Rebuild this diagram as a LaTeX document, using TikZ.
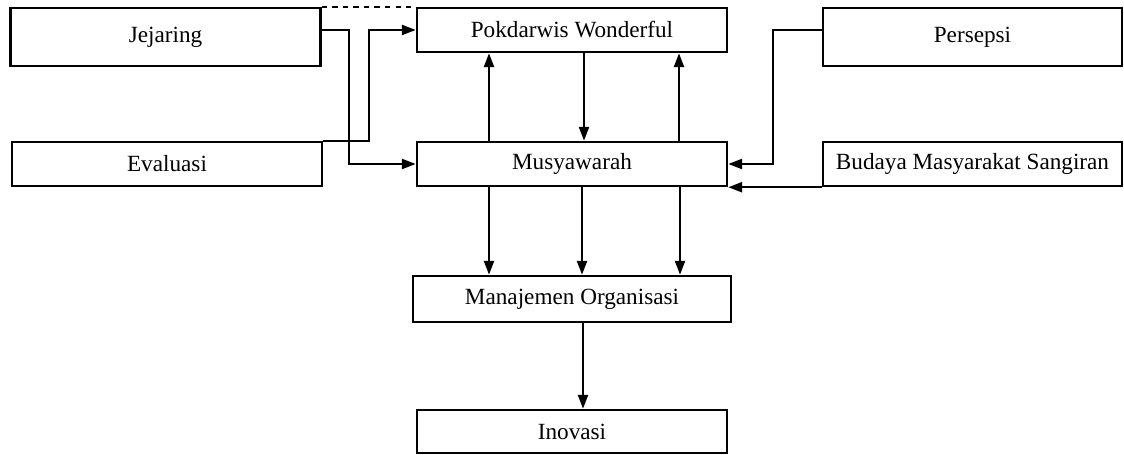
\documentclass[tikz,border=0pt]{standalone}
\usepackage{fontspec}
\setmainfont{Liberation Serif}
\usepackage{tikz}
\usetikzlibrary{arrows.meta,positioning}

\begin{document}
\begin{tikzpicture}[
  box/.style={draw, line width=1.4pt, minimum width=6.2cm, minimum height=0.88cm, align=center, inner sep=0pt, font=\fontsize{13.2}{15}\selectfont},
  tallbox/.style={box, minimum height=1.16cm},
  arr/.style={-{Triangle[length=2.8mm, width=2mm]}, line width=1.4pt},
  dashline/.style={dashed, line width=1.4pt}
]
  \useasboundingbox (0,0) rectangle (22.48,9.1);
  % left column
  \node[tallbox] (jejaring) at (3.31,8.36) {Jejaring};
  \node[box] (evaluasi) at (3.34,5.82) {Evaluasi};
  % middle column
  \node[box] (pokdarwis) at (11.44,8.5) {Pokdarwis Wonderful};
  \node[box] (musyawarah) at (11.44,5.82) {Musyawarah};
  \node[box, minimum width=6.36cm, minimum height=0.92cm] (manajemen) at (11.44,3.12) {Manajemen Organisasi};
  \node[box, minimum height=0.86cm] (inovasi) at (11.44,0.47) {Inovasi};
  % right column
  \node[tallbox, minimum width=5.98cm] (persepsi) at (19.45,8.36) {Persepsi};
  \node[box, minimum width=5.98cm] (budaya) at (19.45,5.82) {Budaya Masyarakat Sangiran};

  \draw[dashline] (jejaring.north east) -- (pokdarwis.north west);
  \draw[arr] (jejaring.east |- pokdarwis.west) -- ++(0.54,0) |- (musyawarah.west);
  \draw[arr] (evaluasi.north east) -- ++(0.92,0) |- (pokdarwis.west);
  \draw[arr] (persepsi.west |- pokdarwis.west) -- ++(-0.98,0) |- (musyawarah.east);
  \draw[arr] (budaya.south west) -- (musyawarah.south east);

  \foreach \dx in {-1.66,2.14}
    \draw[arr] ([xshift=\dx cm]musyawarah.north) -- ([xshift=\dx cm]pokdarwis.south);
  \draw[arr] ([xshift=0.24cm]pokdarwis.south) -- ([xshift=0.24cm]musyawarah.north);
  \foreach \dx in {-1.66,0.2,2.16}
    \draw[arr] ([xshift=\dx cm]musyawarah.south) -- ([xshift=\dx cm]manajemen.north);
  \draw[arr] ([xshift=0.22cm]manajemen.south) -- ([xshift=0.22cm]inovasi.north);
\end{tikzpicture}
\end{document}
